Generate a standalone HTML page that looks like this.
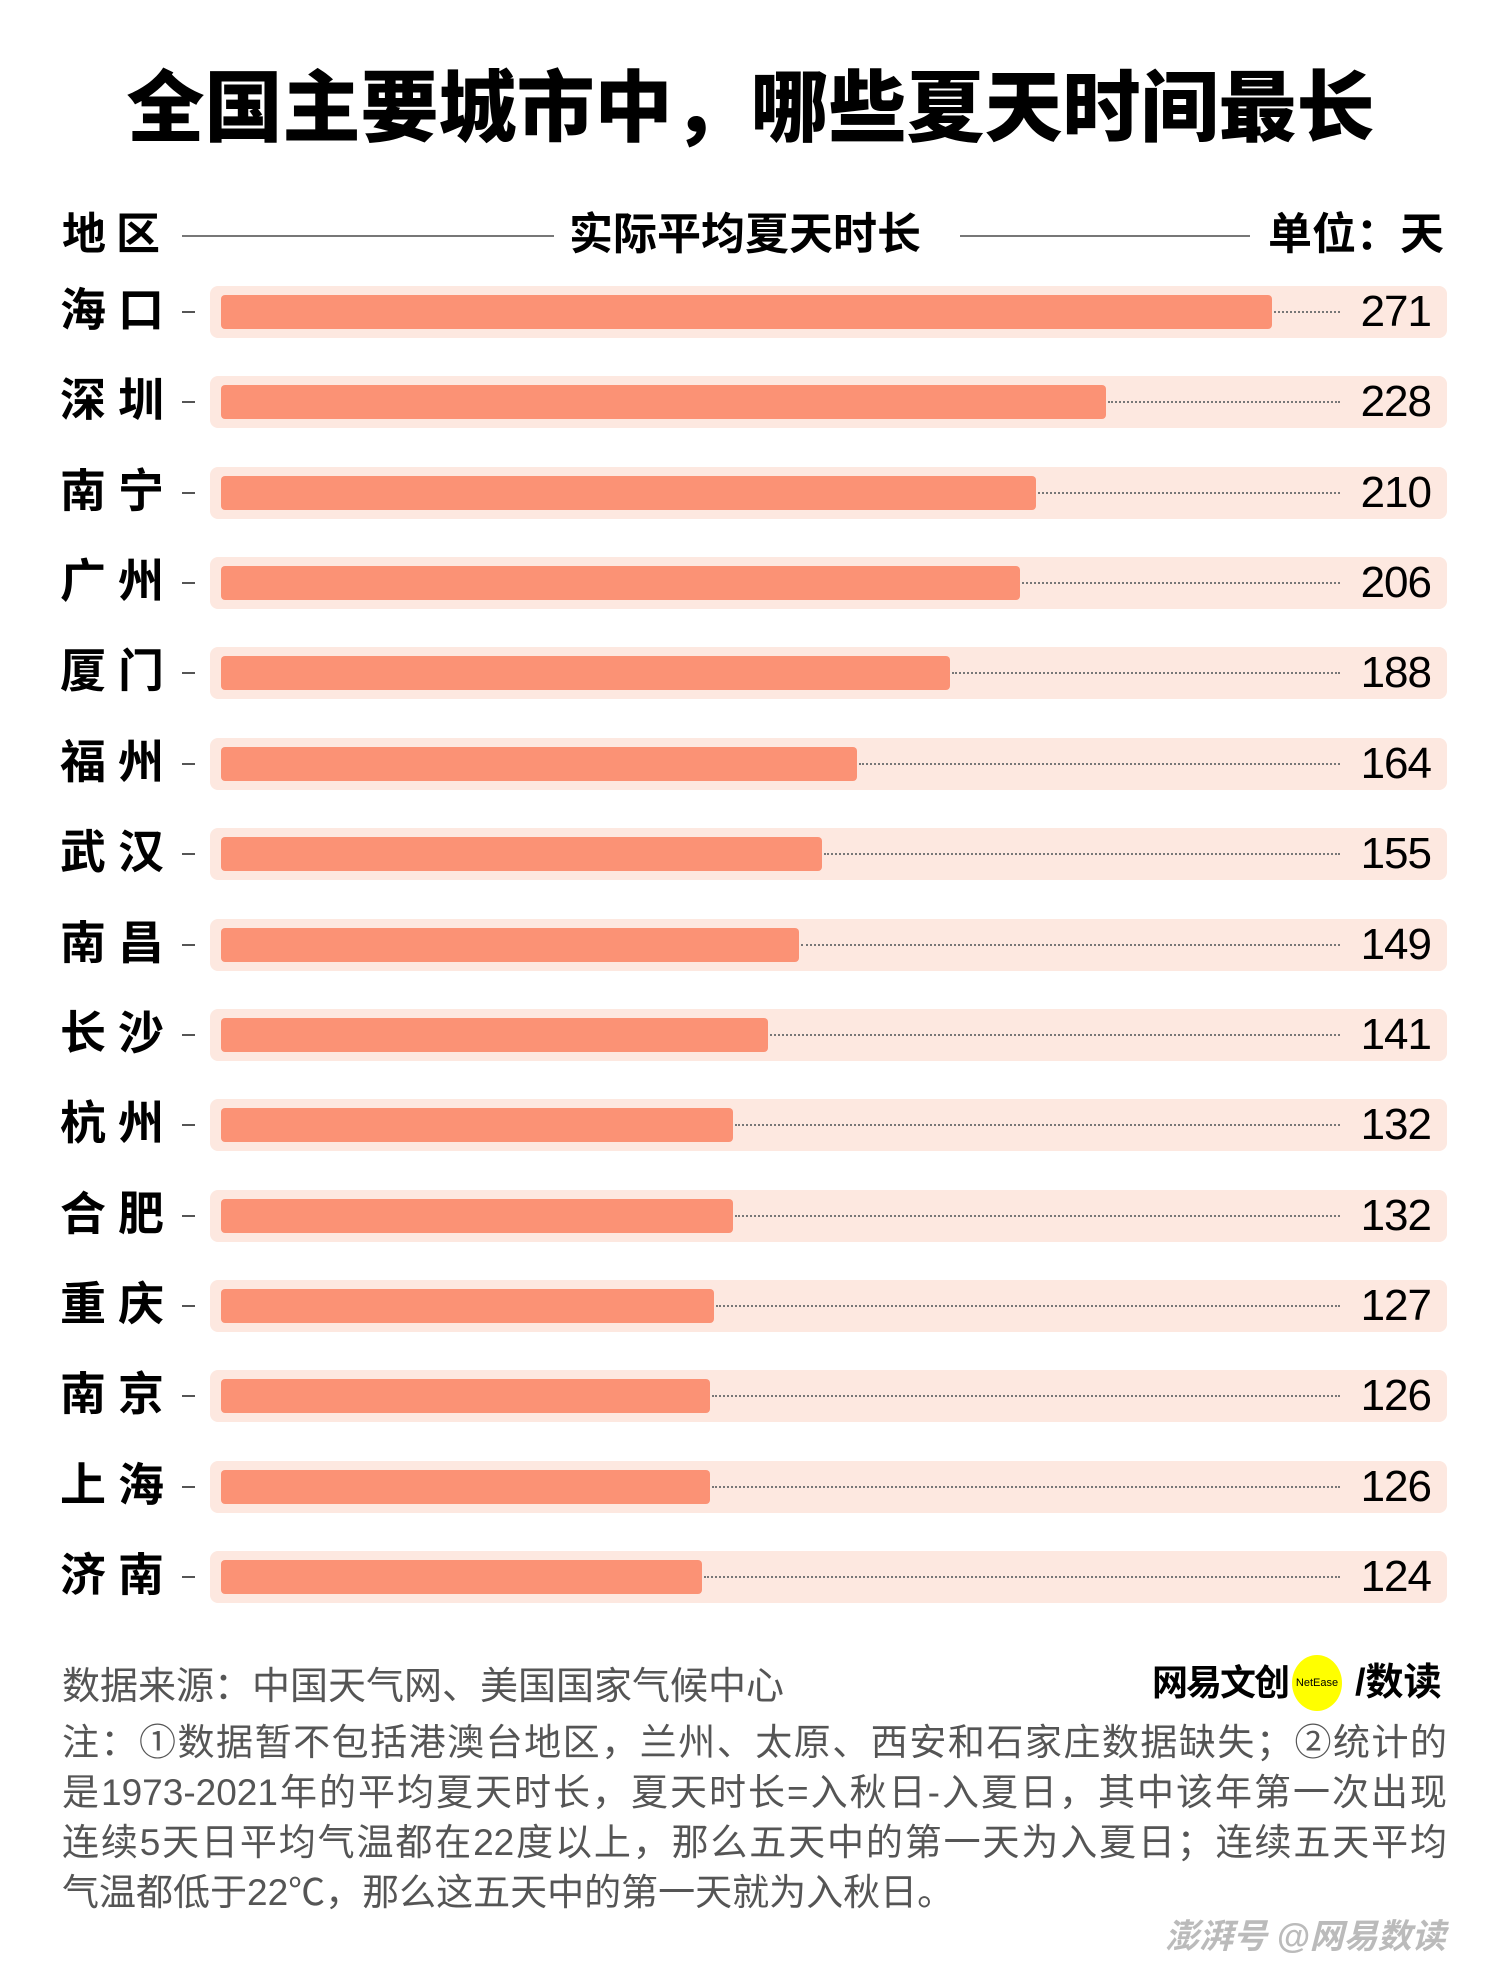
<!DOCTYPE html>
<html><head><meta charset="utf-8"><style>
body{margin:0;width:1501px;height:1965px;background:#fff;position:relative;overflow:hidden;font-family:"Liberation Sans","Noto Sans CJK SC",sans-serif;}
.a{position:absolute;white-space:nowrap;}
.title{left:0;width:1501px;text-align:center;top:58px;font-size:78px;font-weight:900;line-height:100px;color:#000;}
.h{font-size:44px;font-weight:bold;top:208px;line-height:54px;}
.line{position:absolute;height:2px;background:#777;top:235px;}
.city{left:60px;font-size:46px;font-weight:bold;letter-spacing:12px;line-height:54px;}
.dash{position:absolute;left:182px;width:13px;height:2px;background:#555;}
.bg{position:absolute;left:210px;width:1237px;height:52px;background:#fde8e0;border-radius:8px;}
.bar{position:absolute;left:221px;height:34px;background:#fb9275;border-radius:4px;}
.dot{position:absolute;height:0;border-top:2px dotted #777;}
.val{right:70px;font-size:44px;line-height:52px;letter-spacing:-1px;font-family:"Liberation Sans Narrow","Liberation Sans",sans-serif;}
.note{left:62px;width:1385px;font-size:37px;color:#555;line-height:50px;text-align:justify;text-align-last:justify;white-space:normal;}
</style></head><body>
<div class="a title">全国主要城市中，哪些夏天时间最长</div>
<div class="a h" style="left:62px;letter-spacing:10px">地区</div>
<div class="line" style="left:182px;width:372px"></div>
<div class="a h" style="left:569px">实际平均夏天时长</div>
<div class="line" style="left:960px;width:290px"></div>
<div class="a h" style="left:1268px">单位：天</div>
<div id="rows"></div>
<script>
var d=[["海口",271],["深圳",228],["南宁",210],["广州",206],["厦门",188],["福州",164],["武汉",155],["南昌",149],["长沙",141],["杭州",132],["合肥",132],["重庆",127],["南京",126],["上海",126],["济南",124]];
var h="";
d.forEach(function(r,i){var c=312+i*90.36;var w=r[1]*3.88;
h+='<div class="bg" style="top:'+(c-26)+'px"></div>';
h+='<div class="bar" style="top:'+(c-17)+'px;width:'+w+'px"></div>';
h+='<div class="dot" style="top:'+(c-1)+'px;left:'+(221+w+2)+'px;width:'+(1340-221-w-2)+'px"></div>';
h+='<div class="dash" style="top:'+(c-1)+'px"></div>';
h+='<div class="a city" style="top:'+(c-29)+'px">'+r[0]+'</div>';
h+='<div class="a val" style="top:'+(c-26)+'px">'+r[1]+'</div>';});
document.getElementById("rows").innerHTML=h;
</script>
<div class="a" style="left:62px;top:1664px;font-size:38px;color:#555;line-height:46px">数据来源：中国天气网、美国国家气候中心</div>
<div class="a" style="left:1152px;top:1660px;font-size:36px;font-weight:bold;line-height:46px;letter-spacing:-2px">网易文创</div>
<div class="a" style="left:1292px;top:1655px;width:50px;height:56px;border-radius:50%;background:#ffff00;font-size:11px;line-height:56px;text-align:center">NetEase</div>
<div class="a" style="left:1355px;top:1660px;font-size:38px;font-weight:bold;line-height:46px">/数读</div>
<div class="a note" style="top:1718px">注：①数据暂不包括港澳台地区，兰州、太原、西安和石家庄数据缺失；②统计的</div>
<div class="a note" style="top:1768px">是1973-2021年的平均夏天时长，夏天时长=入秋日-入夏日，其中该年第一次出现</div>
<div class="a note" style="top:1818px">连续5天日平均气温都在22度以上，那么五天中的第一天为入夏日；连续五天平均</div>
<div class="a" style="left:62px;top:1868px;font-size:37px;color:#555;line-height:50px">气温都低于22℃，那么这五天中的第一天就为入秋日。</div>
<div class="a" style="left:1165px;top:1915px;font-size:34px;color:#bbb;font-style:italic;font-weight:bold;line-height:44px">澎湃号 @网易数读</div>
</body></html>
